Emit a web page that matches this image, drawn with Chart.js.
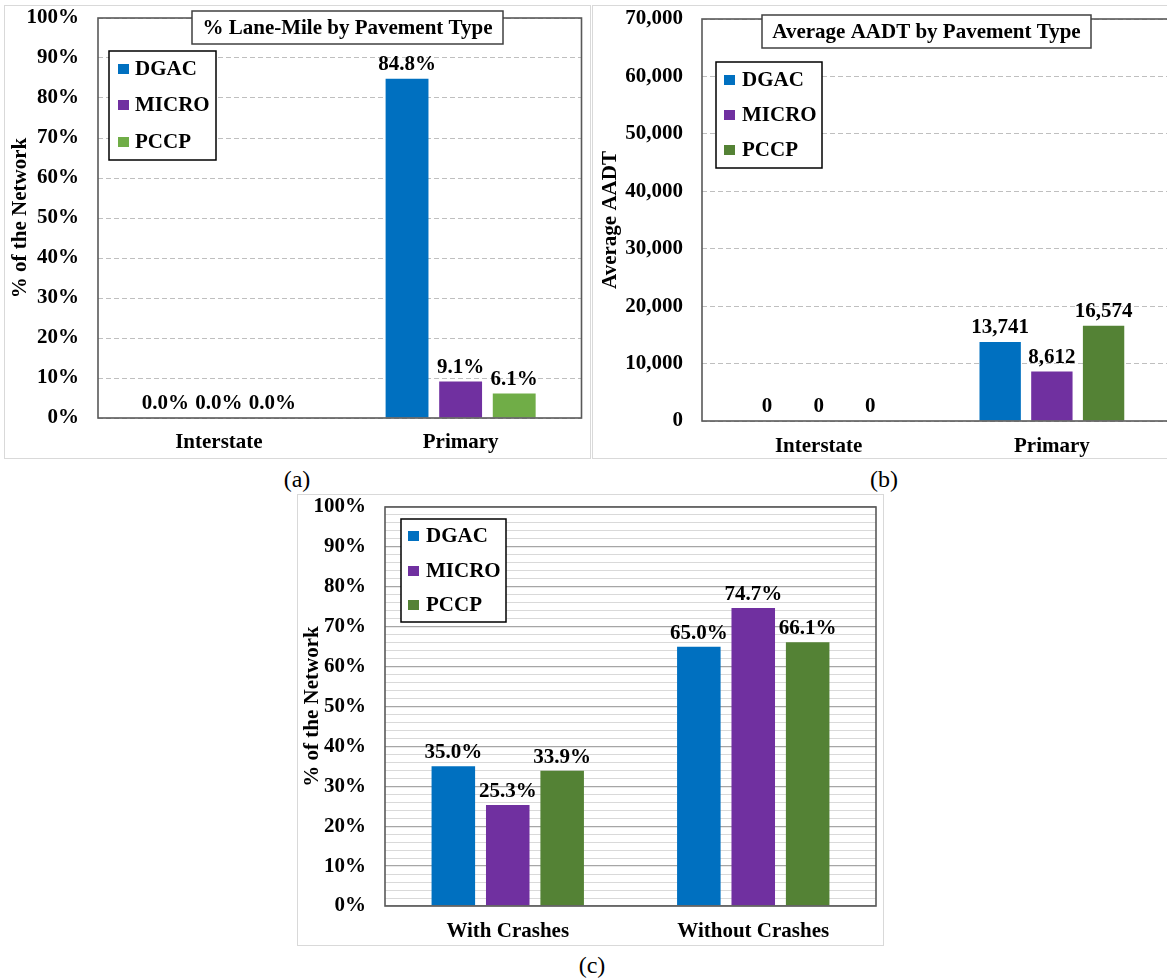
<!DOCTYPE html>
<html><head><meta charset="utf-8">
<script src="https://cdn.jsdelivr.net/npm/chart.js@4.4.0/dist/chart.umd.min.js"></script>
<style>
html,body{margin:0;padding:0;background:#fff;overflow:hidden;width:1167px;height:980px;position:relative;}
.frame{position:absolute;border:1px solid #d9d9d9;box-sizing:border-box;}
canvas{position:absolute;}
.cap{position:absolute;font-family:'Liberation Serif','Times New Roman',serif;font-size:24px;color:#000;transform:translate(-50%,-50%);white-space:nowrap;}
</style></head><body>
<div class="frame" style="left:4px;top:5px;width:587px;height:454px"></div>
<div class="frame" style="left:592px;top:5px;width:585px;height:454px"></div>
<div class="frame" style="left:297px;top:494px;width:587px;height:452px"></div>
<canvas id="ca" width="585" height="453" style="left:5px;top:5px"></canvas>
<canvas id="cb" width="580" height="453" style="left:592px;top:5px"></canvas>
<canvas id="cc" width="585" height="451" style="left:298px;top:495px"></canvas>
<div class="cap" style="left:297px;top:479px">(a)</div>
<div class="cap" style="left:884px;top:479px">(b)</div>
<div class="cap" style="left:592px;top:965px">(c)</div>
<script>
// ---- data ----
const seriesNames = ['DGAC', 'MICRO', 'PCCP'];
const roadCats = ['Interstate', 'Primary'];
const laneMileDGAC = [0.0, 84.8];
const laneMileMICRO = [0.0, 9.1];
const laneMilePCCP = [0.0, 6.1];
const aadtDGAC = [0, 13741];
const aadtMICRO = [0, 8612];
const aadtPCCP = [0, 16574];
const crashCats = ['With Crashes', 'Without Crashes'];
const crashDGAC = [35.0, 65.0];
const crashMICRO = [25.3, 74.7];
const crashPCCP = [33.9, 66.1];

// ---- styles ----
const FONT = "'Liberation Serif','Times New Roman',Times,serif";
const FS = 21;
const C_DGAC = '#0070C0', C_MICRO = '#7030A0', C_PCCP_A = '#70AD47', C_PCCP = '#548235';
const fMain = {family: FONT, size: FS, weight: 'bold'};
const pctTick = v => Math.round(v) + '%';
const numTick = v => Number(v).toLocaleString('en-US');

const boxPlugin = {
  id: 'boxes',
  afterDatasetsDraw(chart, args, o) {
    const ctx = chart.ctx, a = chart.chartArea;
    ctx.save();
    ctx.strokeStyle = '#595959';
    ctx.lineWidth = 1.6;
    ctx.strokeRect(a.left, a.top, a.right - a.left, a.bottom - a.top);
    ctx.fillStyle = '#000';
    ctx.font = 'bold ' + FS + 'px ' + FONT;
    ctx.textAlign = 'center';
    ctx.textBaseline = 'alphabetic';
    chart.data.datasets.forEach((ds, di) => {
      const meta = chart.getDatasetMeta(di);
      meta.data.forEach((bar, i) => {
        ctx.fillText(o.fmt(ds.data[i]), bar.x, bar.y - o.labelOffset);
      });
    });
    ctx.restore();
  },
  afterDraw(chart, args, o) {
    const ctx = chart.ctx;
    ctx.save();
    if (o.title) {
      const t = o.title;
      ctx.fillStyle = '#fff';
      ctx.fillRect(t.x1, t.y1, t.x2 - t.x1, t.y2 - t.y1);
      ctx.strokeStyle = '#404040';
      ctx.lineWidth = 1.5;
      ctx.strokeRect(t.x1, t.y1, t.x2 - t.x1, t.y2 - t.y1);
      ctx.fillStyle = '#000';
      ctx.font = 'bold ' + FS + 'px ' + FONT;
      ctx.textAlign = 'center';
      ctx.textBaseline = 'middle';
      ctx.fillText(t.text, (t.x1 + t.x2) / 2, (t.y1 + t.y2) / 2 + 1);
    }
    const L = o.legend;
    ctx.fillStyle = '#fff';
    ctx.fillRect(L.x1, L.y1, L.x2 - L.x1, L.y2 - L.y1);
    ctx.strokeStyle = '#000';
    ctx.lineWidth = 1.5;
    ctx.strokeRect(L.x1, L.y1, L.x2 - L.x1, L.y2 - L.y1);
    ctx.font = 'bold ' + FS + 'px ' + FONT;
    ctx.textAlign = 'left';
    ctx.textBaseline = 'middle';
    chart.data.datasets.forEach((ds, i) => {
      const y = L.ys[i];
      ctx.fillStyle = ds.backgroundColor;
      ctx.fillRect(L.sq, y - 5, 11, 10);
      ctx.fillStyle = '#000';
      ctx.fillText(ds.label, L.tx, y + 1);
    });
    ctx.restore();
  }
};

function makeChart(id, cats, vals, colors, cfg) {
  return new Chart(document.getElementById(id), {
    type: 'bar',
    data: {
      labels: cats,
      datasets: seriesNames.map((n, i) => ({
        label: n, data: vals[i], backgroundColor: colors[i],
        barPercentage: 0.8, categoryPercentage: 0.665
      }))
    },
    options: {
      responsive: false, animation: false, devicePixelRatio: 1,
      layout: {padding: cfg.pad},
      plugins: {legend: {display: false}, tooltip: {enabled: false}, boxes: cfg.boxes},
      scales: {
        x: {
          ticks: {font: fMain, color: '#000', padding: cfg.xPad},
          grid: {display: false, drawTicks: false}, border: {display: false},
          afterFit(s) { s.height = cfg.xH; s.paddingLeft = 0; s.paddingRight = 0; }
        },
        y: {
          min: 0, max: cfg.max,
          ticks: {font: fMain, color: '#000', padding: 19, stepSize: cfg.step, autoSkip: false, callback: cfg.tick},
          grid: {color: cfg.gridColor, lineWidth: cfg.gridWidth || 1, drawTicks: false},
          border: {display: false, dash: cfg.dash || []},
          title: {display: true, text: cfg.ytitle, font: fMain, color: '#000', padding: {top: cfg.titlePad, bottom: 0}},
          afterFit(s) { s.width = cfg.yW; s.paddingTop = 0; s.paddingBottom = 0; }
        }
      }
    },
    plugins: [boxPlugin]
  });
}

// (a)
makeChart('ca', roadCats, [laneMileDGAC, laneMileMICRO, laneMilePCCP], [C_DGAC, C_MICRO, C_PCCP_A], {
  pad: {left: 0, top: 13, right: 8.5, bottom: 0},
  xH: 40, xPad: 12, yW: 93, titlePad: 2.5,
  max: 100, step: 10, tick: pctTick, gridColor: '#bfbfbf', dash: [5, 3],
  ytitle: '% of the Network',
  boxes: {
    fmt: v => v.toFixed(1) + '%', labelOffset: 9,
    title: {text: '% Lane-Mile by Pavement Type', x1: 187, y1: 6, x2: 498, y2: 39},
    legend: {x1: 104, y1: 46, x2: 211, y2: 155, ys: [64, 100, 137], sq: 113, tx: 130}
  }
});

// (b)
makeChart('cb', roadCats, [aadtDGAC, aadtMICRO, aadtPCCP], [C_DGAC, C_MICRO, C_PCCP], {
  pad: {left: 0, top: 14, right: 3.5, bottom: 0},
  xH: 37, xPad: 13, yW: 110, titlePad: 5.5,
  max: 70000, step: 10000, tick: numTick, gridColor: '#bfbfbf', dash: [5, 3],
  ytitle: 'Average AADT',
  boxes: {
    fmt: v => Number(v).toLocaleString('en-US'), labelOffset: 9,
    title: {text: 'Average AADT by Pavement Type', x1: 170, y1: 10, x2: 499, y2: 43},
    legend: {x1: 124, y1: 57, x2: 230, y2: 163, ys: [75, 110, 145], sq: 132, tx: 150}
  }
});

// (c)
makeChart('cc', crashCats, [crashDGAC, crashMICRO, crashPCCP], [C_DGAC, C_MICRO, C_PCCP], {
  pad: {left: 0, top: 12, right: 7, bottom: 0},
  xH: 40, xPad: 13, yW: 87, titlePad: 1.5,
  max: 100, step: 2,
  tick: v => (Math.round(v) % 10 === 0 ? Math.round(v) + '%' : ''),
  gridColor: ctx => (ctx.tick && Math.round(ctx.tick.value) % 10 === 0 ? '#a6a6a6' : '#d9d9d9'),
  gridWidth: ctx => (ctx.tick && Math.round(ctx.tick.value) % 10 === 0 ? 1.3 : 1),
  ytitle: '% of the Network',
  boxes: {
    fmt: v => v.toFixed(1) + '%', labelOffset: 8,
    title: null,
    legend: {x1: 103, y1: 24, x2: 208, y2: 127, ys: [41, 76, 110], sq: 110, tx: 128}
  }
});
</script>
</body></html>
